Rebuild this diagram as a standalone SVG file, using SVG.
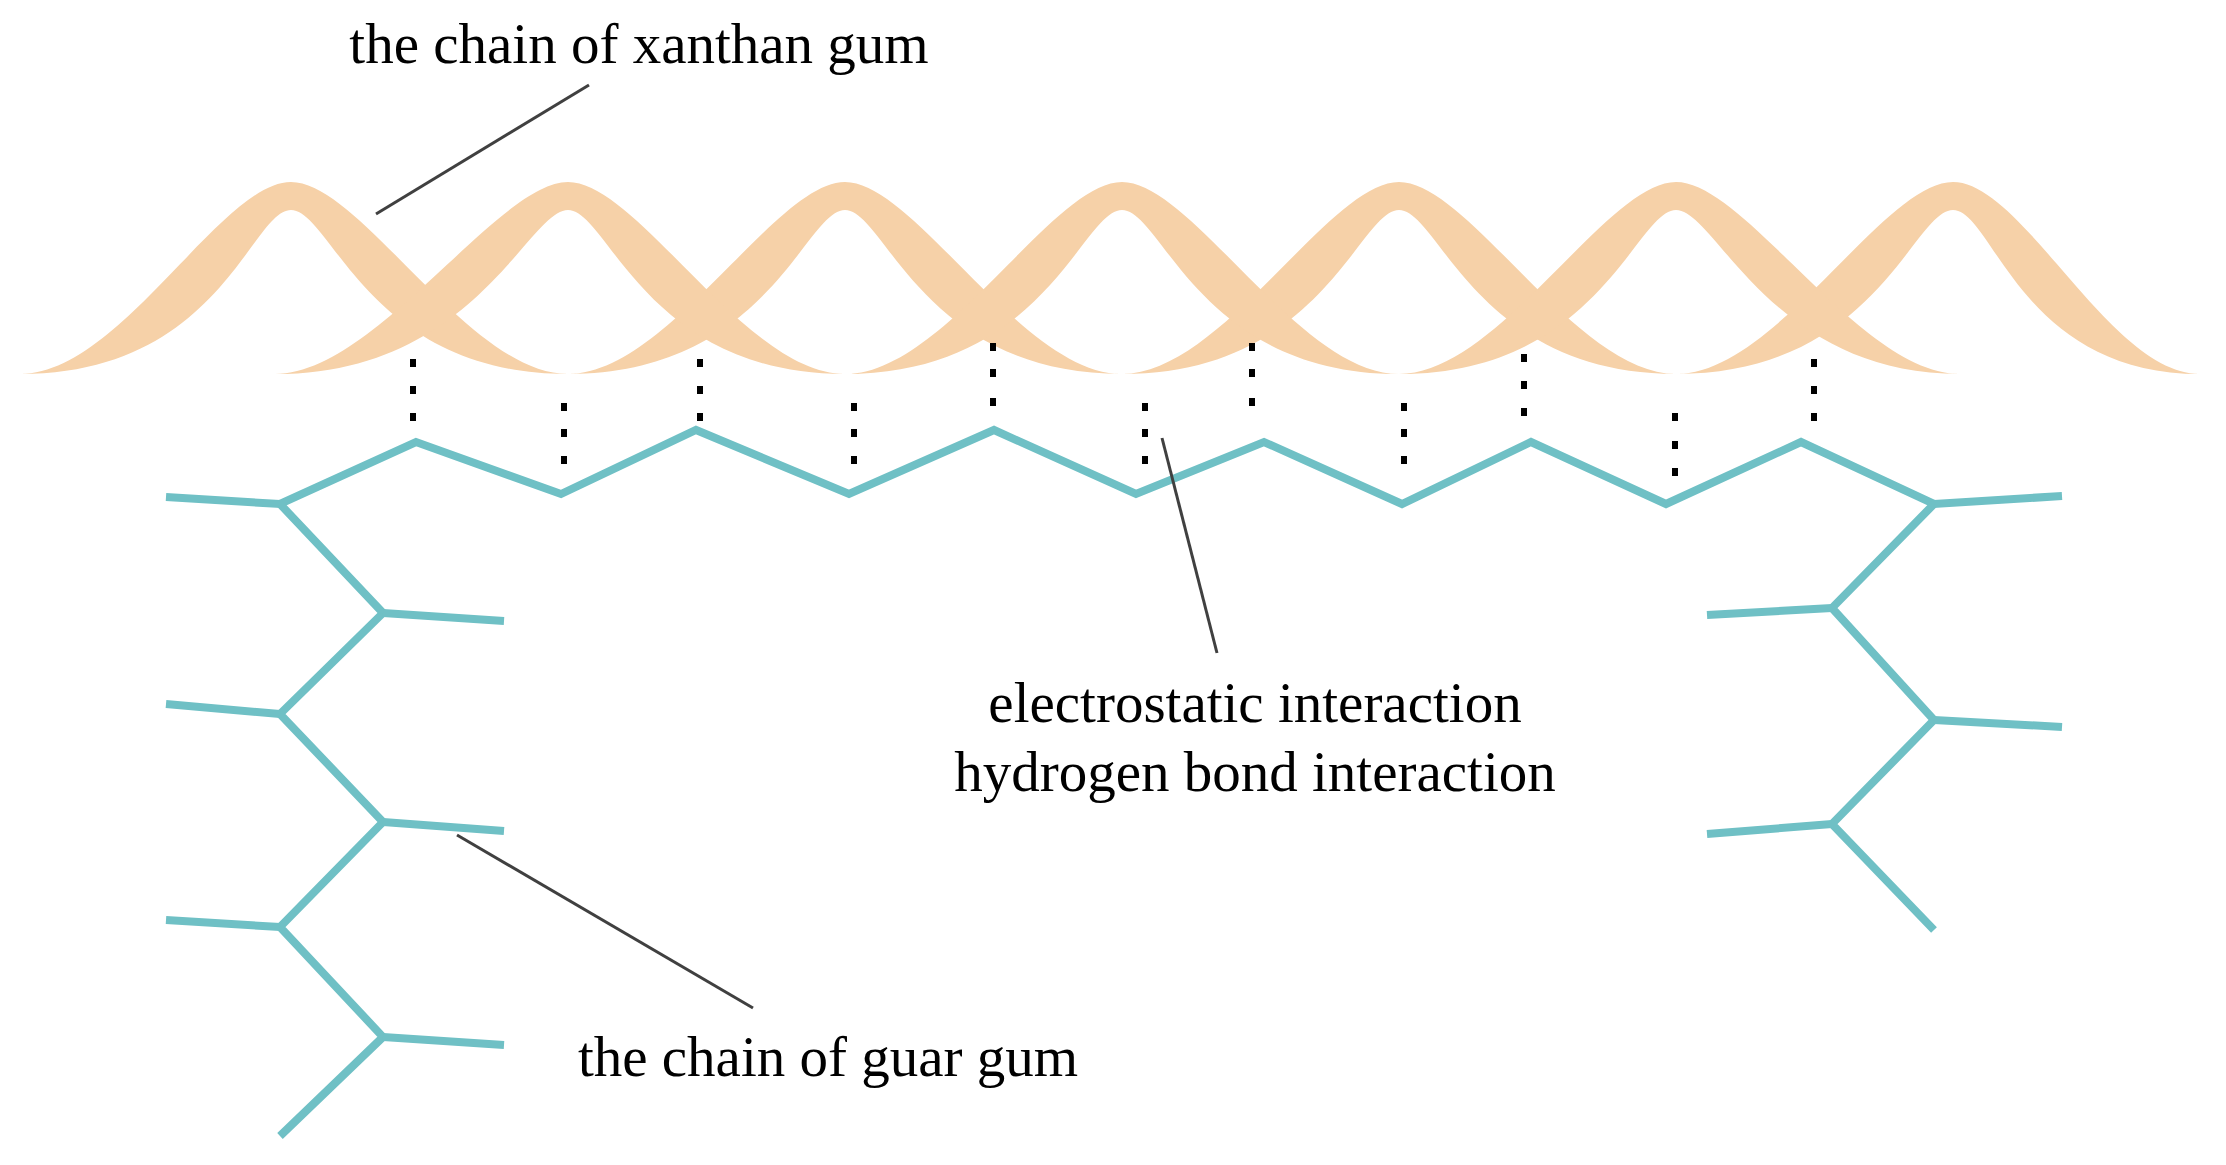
<svg xmlns="http://www.w3.org/2000/svg" width="2226" height="1165" viewBox="0 0 2226 1165">
<style>
.ribbon{fill:#f6d1a8;stroke:none}
.chain{fill:none;stroke:#6fc0c5;stroke-width:8;stroke-linejoin:miter;stroke-linecap:butt}
.lead{fill:none;stroke:#404040;stroke-width:3}
.dot{fill:#000}
text{font-family:"Liberation Serif","Times New Roman",serif;font-size:57px;fill:#000;text-anchor:middle}
</style>
<rect width="2226" height="1165" fill="#fff"/>
<g id="xanthan">
<path class="ribbon" d="M20,374 C120,374 221,182 291,182 C361,182 468,374 568,374 C368,374 331,210 291,210 C251,210 220,374 20,374 Z"/>
<path class="ribbon" d="M568,374 C668,374 775,182 845,182 C915,182 1022,374 1122,374 C922,374 885,210 845,210 C805,210 768,374 568,374 Z"/>
<path class="ribbon" d="M1122,374 C1222,374 1329,182 1399,182 C1469,182 1576,374 1676,374 C1476,374 1439,210 1399,210 C1359,210 1322,374 1122,374 Z"/>
<path class="ribbon" d="M1676,374 C1776,374 1883,182 1953,182 C2023,182 2110,374 2200,374 C2020,374 1993,210 1953,210 C1913,210 1876,374 1676,374 Z"/>
<path class="ribbon" d="M275,374 C375,374 498,182 568,182 C638,182 745,374 845,374 C645,374 608,210 568,210 C528,210 475,374 275,374 Z"/>
<path class="ribbon" d="M845,374 C945,374 1052,182 1122,182 C1192,182 1299,374 1399,374 C1199,374 1162,210 1122,210 C1082,210 1045,374 845,374 Z"/>
<path class="ribbon" d="M1399,374 C1499,374 1606,182 1676,182 C1746,182 1860,374 1960,374 C1770,374 1716,210 1676,210 C1636,210 1599,374 1399,374 Z"/>
</g>
<g id="guar">
<polyline class="chain" points="166,497 280,504 416,442 561,494 696,430 849,494 994,430 1136,494 1264,442 1402,504 1531,442 1666,504 1801,442 1934,504 2062,496"/>
<polyline class="chain" points="280,504 383,613 280,714 383,822 280,927 383,1037 280,1136"/>
<polyline class="chain" points="383,613 504,621"/>
<polyline class="chain" points="166,704 280,714"/>
<polyline class="chain" points="383,822 504,831"/>
<polyline class="chain" points="166,920 280,927"/>
<polyline class="chain" points="383,1037 504,1045"/>
<polyline class="chain" points="1934,504 1832,608 1934,720 1832,824 1934,930"/>
<polyline class="chain" points="1707,615 1832,608"/>
<polyline class="chain" points="1934,720 2062,727"/>
<polyline class="chain" points="1707,834 1832,824"/>
</g>
<g id="interactions">
<g class="dot">
<rect x="410" y="359" width="6" height="8"/><rect x="410" y="386" width="6" height="8"/><rect x="410" y="413" width="6" height="8"/>
<rect x="561" y="403" width="6" height="8"/><rect x="561" y="429" width="6" height="8"/><rect x="561" y="456" width="6" height="8"/>
<rect x="697" y="359" width="6" height="8"/><rect x="697" y="386" width="6" height="8"/><rect x="697" y="413" width="6" height="8"/>
<rect x="851" y="403" width="6" height="8"/><rect x="851" y="429" width="6" height="8"/><rect x="851" y="456" width="6" height="8"/>
<rect x="990" y="343" width="6" height="8"/><rect x="990" y="369" width="6" height="8"/><rect x="990" y="398" width="6" height="8"/>
<rect x="1142" y="403" width="6" height="8"/><rect x="1142" y="429" width="6" height="8"/><rect x="1142" y="456" width="6" height="8"/>
<rect x="1249" y="343" width="6" height="8"/><rect x="1249" y="369" width="6" height="8"/><rect x="1249" y="398" width="6" height="8"/>
<rect x="1401" y="403" width="6" height="8"/><rect x="1401" y="429" width="6" height="8"/><rect x="1401" y="456" width="6" height="8"/>
<rect x="1521" y="354" width="6" height="8"/><rect x="1521" y="381" width="6" height="8"/><rect x="1521" y="408" width="6" height="8"/>
<rect x="1672" y="413" width="6" height="8"/><rect x="1672" y="441" width="6" height="8"/><rect x="1672" y="468" width="6" height="8"/>
<rect x="1811" y="359" width="6" height="8"/><rect x="1811" y="386" width="6" height="8"/><rect x="1811" y="413" width="6" height="8"/>
</g>
</g>
<g id="connectors">
<line class="lead" x1="589" y1="85" x2="376" y2="214"/>
<line class="lead" x1="1162" y1="438" x2="1217" y2="653"/>
<line class="lead" x1="457" y1="835" x2="753" y2="1008"/>
</g>
<g id="labels">
<text x="639" y="63">the chain of xanthan gum</text>
<text x="1255" y="722">electrostatic interaction</text>
<text x="1255" y="791">hydrogen bond interaction</text>
<text x="828" y="1076">the chain of guar gum</text>
</g>
</svg>
